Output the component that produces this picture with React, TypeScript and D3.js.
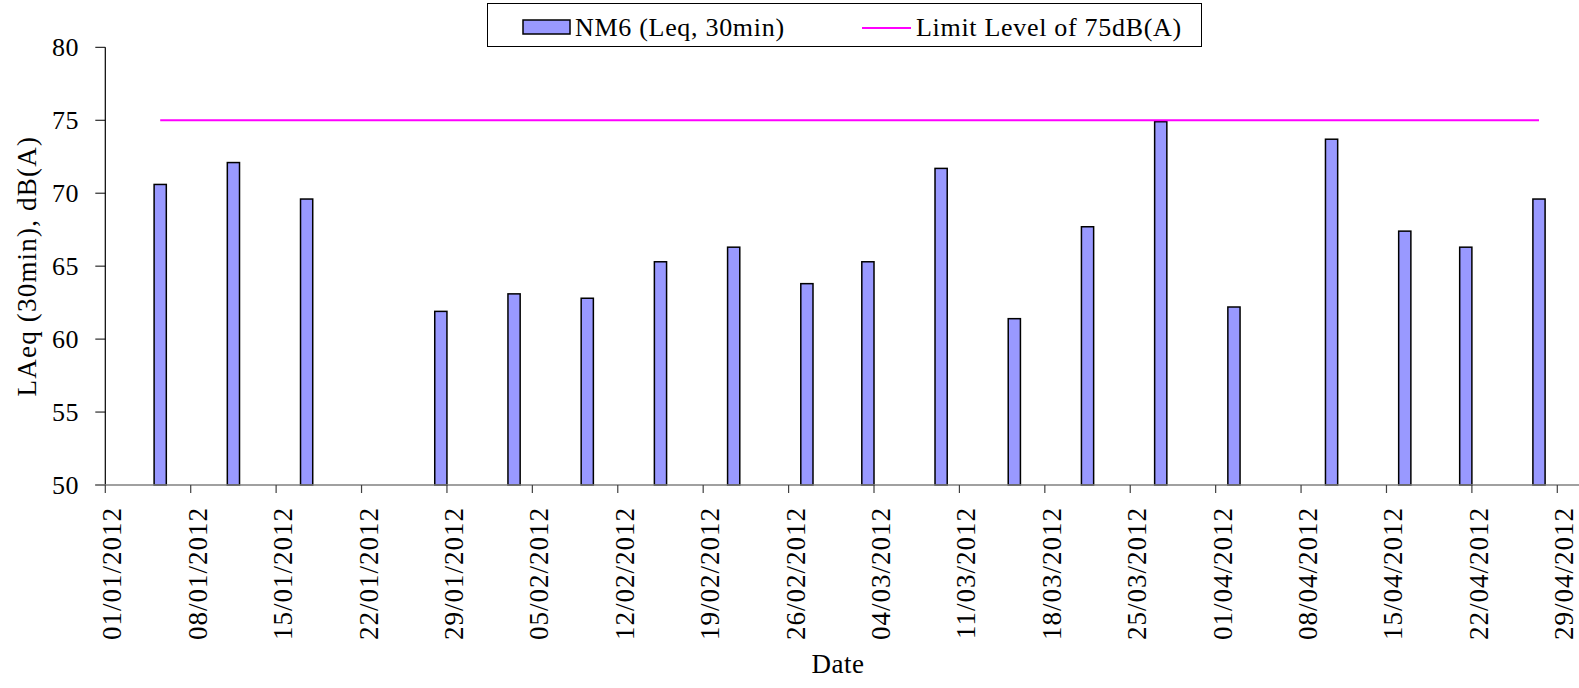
import React from 'react';
import * as d3 from 'd3';

// measurement dates and LAeq (30min) readings
const dates: string[] = [
  '2012-01-05', '2012-01-11', '2012-01-17', '2012-01-28', '2012-02-03',
  '2012-02-09', '2012-02-15', '2012-02-21', '2012-02-27', '2012-03-03',
  '2012-03-09', '2012-03-15', '2012-03-21', '2012-03-27', '2012-04-02',
  '2012-04-10', '2012-04-16', '2012-04-21', '2012-04-27',
];
const nm6Values: number[] = [
  70.6, 72.1, 69.6, 61.9, 63.1, 62.8, 65.3, 66.3, 63.8, 65.3,
  71.7, 61.4, 67.7, 74.9, 62.2, 73.7, 67.4, 66.3, 69.6,
];
const limitLevels: number[] = [
  75, 75, 75, 75, 75, 75, 75, 75, 75, 75,
  75, 75, 75, 75, 75, 75, 75, 75, 75,
];
const yTicks: number[] = [50, 55, 60, 65, 70, 75, 80];
const xStart = '2012-01-01';
const xEnd = '2012-04-30';
const seriesNames: string[] = ['NM6 (Leq, 30min)', 'Limit Level of 75dB(A)'];

const W = 1579;
const H = 688;
const FONT = '"Liberation Serif", "Times New Roman", serif';

const parse = (s: string) => new Date(s + 'T00:00:00Z');

const App: React.FC = () => {
  const margin = { top: 47.3, right: W - 1569.5, bottom: H - 485, left: 105.3 };

  const x = d3.scaleUtc()
    .domain([parse(xStart), parse(xEnd)])
    .range([margin.left, W - margin.right]);

  const y = d3.scaleLinear()
    .domain([50, 80])
    .range([H - margin.bottom, margin.top]);

  const fmt = d3.utcFormat('%d/%m/%Y');
  // 01/01/2012 is a Sunday, so weekly ticks fall on Sundays
  const xTicks = d3.utcSunday.range(parse(xStart), d3.utcDay.offset(parse(xEnd), 1));

  const points = dates.map((d, i) => ({
    start: parse(d),
    end: d3.utcDay.offset(parse(d), 1),
    mid: d3.utcHour.offset(parse(d), 12),
    value: nm6Values[i],
    limit: limitLevels[i],
  }));

  const limitLine = d3.line<typeof points[number]>()
    .x(d => x(d.mid))
    .y(d => y(d.limit));

  const y0 = y(50);

  return (
    <div style={{ position: 'absolute', left: 0, top: 0 }}>
      <svg width={W} height={H} style={{ display: 'block', background: '#fff' }} fontFamily={FONT}>
        {/* bars */}
        {points.map((p, i) => (
          <rect
            key={i}
            x={x(p.start)}
            y={y(p.value)}
            width={x(p.end) - x(p.start)}
            height={y0 - y(p.value)}
            fill="#9999FF"
            stroke="#000"
            strokeWidth={1.5}
          />
        ))}

        {/* limit line */}
        <path d={limitLine(points) || ''} fill="none" stroke="#FF00FF" strokeWidth={2} />

        {/* y axis */}
        <line x1={margin.left} x2={margin.left} y1={y(80)} y2={y0} stroke="#000" strokeWidth={1.2} />
        {yTicks.map(t => (
          <g key={t}>
            <line x1={margin.left - 10} x2={margin.left} y1={y(t)} y2={y(t)} stroke="#000" strokeWidth={1} />
            <text x={79} y={y(t)} dy="0.35em" textAnchor="end" fontSize={26} letterSpacing={0.5} fill="#000">{t}</text>
          </g>
        ))}
        <text
          transform={`translate(27, ${(y(80) + y0) / 2}) rotate(-90)`}
          textAnchor="middle"
          dy="0.35em"
          fontSize={27}
          letterSpacing={1.2}
          fill="#000"
        >LAeq (30min), dB(A)</text>

        {/* x axis */}
        <line x1={margin.left - 10} x2={W} y1={y0} y2={y0} stroke="#808080" strokeWidth={1.5} />
        {xTicks.map((t, i) => (
          <g key={i}>
            <line x1={x(t)} x2={x(t)} y1={y0} y2={y0 + 8} stroke="#404040" strokeWidth={1.2} />
            <text
              transform={`translate(${x(t) + 16}, 507) rotate(-90)`}
              textAnchor="end"
              fontSize={27}
              letterSpacing={1}
              fill="#000"
            >{fmt(t)}</text>
          </g>
        ))}
        <text x={838} y={673} textAnchor="middle" fontSize={27} letterSpacing={0.5} fill="#000">Date</text>

        {/* legend */}
        <rect x={487.5} y={3.5} width={714} height={43} fill="#fff" stroke="#000" strokeWidth={1} />
        <rect x={523} y={20} width={47} height={14} fill="#9999FF" stroke="#000" strokeWidth={1.5} />
        <text x={575} y={36} fontSize={26} letterSpacing={0.7} fill="#000">{seriesNames[0]}</text>
        <line x1={862} x2={911} y1={28} y2={28} stroke="#FF00FF" strokeWidth={2} />
        <text x={916} y={36} fontSize={26} letterSpacing={0.7} fill="#000">{seriesNames[1]}</text>
      </svg>
    </div>
  );
};

export default App;
